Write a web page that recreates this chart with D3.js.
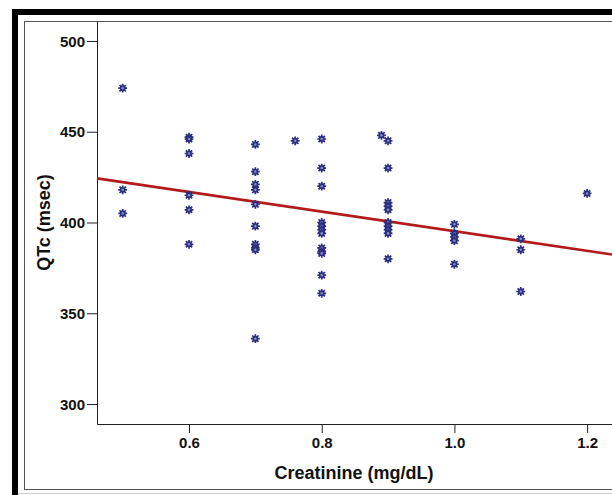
<!DOCTYPE html>
<html><head><meta charset="utf-8">
<script src="https://cdn.jsdelivr.net/npm/d3@7"></script>
<style>html,body{margin:0;padding:0;background:#fff;overflow:hidden}</style>
</head><body>
<script>
// Data
const creatinine = [
  0.5,0.5,0.5,
  0.6,0.6,0.6,0.6,0.6,0.6,
  0.7,0.7,0.7,0.7,0.7,0.7,0.7,0.7,0.7,0.7,
  0.76,
  0.8,0.8,0.8,0.8,0.8,0.8,0.8,0.8,0.8,0.8,0.8,0.8,
  0.89,
  0.9,0.9,0.9,0.9,0.9,0.9,0.9,0.9,0.9,0.9,
  1.0,1.0,1.0,1.0,1.0,
  1.1,1.1,1.1,
  1.2
];
const qtc = [
  474,418,405,
  447,446,438,415,407,388,
  443,428,421,418,410,398,388,386,385,336,
  445,
  446,430,420,400,398,396,394,386,384,383,371,361,
  448,
  445,430,411,409,407,400,398,396,394,380,
  399,394,392,390,377,
  391,385,362,
  416
];
const xTicks = [0.6, 0.8, 1.0, 1.2];
const yTicks = [300, 350, 400, 450, 500];
const fitIntercept = 449.2;   // QTc = fitIntercept + fitSlope * creatinine
const fitSlope = -54;
const xTitle = "Creatinine (mg/dL)";
const yTitle = "QTc (msec)";

const W = 612, H = 495;
const svg = d3.select("body").append("svg").attr("width", W).attr("height", H);

// frames
svg.append("rect").attr("x", 15).attr("y", 12).attr("width", 700).attr("height", 600)
  .attr("fill", "none").attr("stroke", "#000").attr("stroke-width", 6);
svg.append("rect").attr("x", 24.5).attr("y", 21.5).attr("width", 700).attr("height", 468)
  .attr("fill", "none").attr("stroke", "#555").attr("stroke-width", 1);
svg.append("line").attr("x1", 18).attr("x2", 612).attr("y1", 493.5).attr("y2", 493.5)
  .attr("stroke", "#ccc").attr("stroke-width", 1);

const x = d3.scaleLinear().domain([0.4613, 1.2375]).range([97, 612]);
const y = d3.scaleLinear().domain([289, 511]).range([424, 21]);

const font = "'Liberation Sans', Arial, sans-serif";

// axes
const gx = svg.append("g").attr("transform", "translate(0,424)")
  .call(d3.axisBottom(x).tickValues(xTicks).tickFormat(d3.format(".1f"))
    .tickSizeInner(9).tickSizeOuter(0).tickPadding(4));
const gy = svg.append("g").attr("transform", "translate(97,0)")
  .call(d3.axisLeft(y).tickValues(yTicks).tickFormat(d3.format("d"))
    .tickSizeInner(10).tickSizeOuter(0).tickPadding(2));
[gx, gy].forEach(g => {
  g.select(".domain").attr("stroke", "#222").attr("stroke-width", 1);
  g.selectAll(".tick line").attr("stroke", "#222").attr("stroke-width", 1);
  g.selectAll(".tick text").attr("font-family", font).attr("font-weight", "bold")
    .attr("font-size", 15).attr("fill", "#111");
});
gy.selectAll(".tick text").attr("dy", "0.35em");

// regression line
const x0 = x.domain()[0], x1 = x.domain()[1];
svg.append("line")
  .attr("x1", x(x0)).attr("y1", y(fitIntercept + fitSlope * x0))
  .attr("x2", x(x1)).attr("y2", y(fitIntercept + fitSlope * x1))
  .attr("stroke", "#b31b1b").attr("stroke-width", 2.6);

// points (asterisk markers)
const pts = creatinine.map((c, i) => ({c, q: qtc[i]}));
const navy = "#2a2e80";
const r = 4.4, rd = r * 0.72;
const star = `M${-r},0L${r},0M0,${-r}L0,${r}M${-rd},${-rd}L${rd},${rd}M${-rd},${rd}L${rd},${-rd}`;
const g = svg.append("g");
const mk = g.selectAll("g.pt").data(pts).join("g").attr("class", "pt")
  .attr("transform", d => `translate(${x(d.c)},${y(d.q)})`);
mk.append("path").attr("d", star).attr("stroke", navy).attr("stroke-width", 1.7).attr("fill", "none");
mk.append("circle").attr("r", 2.1).attr("fill", "#8a8cc0").attr("stroke", navy).attr("stroke-width", 1.6);

// titles
svg.append("text").attr("x", 354).attr("y", 479).attr("text-anchor", "middle")
  .attr("font-family", font).attr("font-weight", "bold").attr("font-size", 18).attr("fill", "#111")
  .text(xTitle);
svg.append("text").attr("transform", "translate(50,222.5) rotate(-90)").attr("text-anchor", "middle")
  .attr("font-family", font).attr("font-weight", "bold").attr("font-size", 18).attr("fill", "#111")
  .text(yTitle);
</script>
</body></html>
